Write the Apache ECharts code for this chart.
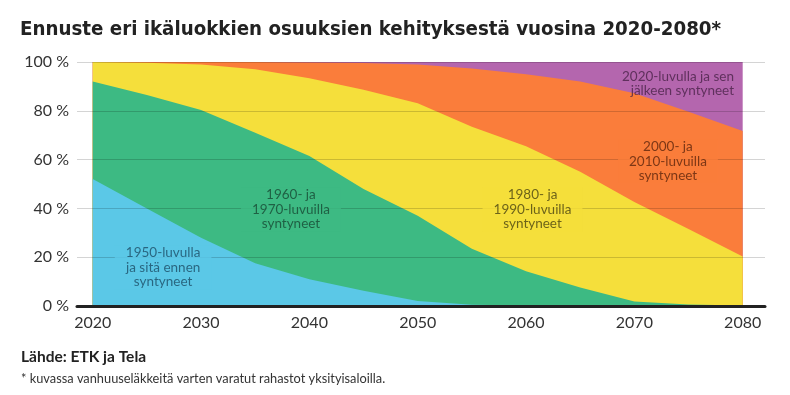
<!DOCTYPE html>
<html>
<head>
<meta charset="utf-8">
<script src="https://cdn.jsdelivr.net/npm/echarts@6/dist/echarts.min.js"></script>
<style>
html,body{margin:0;padding:0;background:#fff;}
#chart{width:790px;height:395px;}
</style>
</head>
<body>
<div id="chart"></div>
<script>
// Years (x positions)
const years = [2020, 2025, 2030, 2035, 2040, 2045, 2050, 2055, 2060, 2065, 2070, 2075, 2080];
// Shares (%) for each birth cohort
const born1950 = [52, 40, 28, 17.5, 11, 6.2, 2, 0.5, 0.2, 0.1, 0, 0, 0];
const born1960s70s = [40, 46.5, 52.3, 53.5, 50.5, 41.8, 35, 23, 14, 7.5, 1.8, 0.6, 0.2];
const born1980s90s = [8, 13.2, 18.7, 26, 31.8, 40.6, 46.1, 50, 51.3, 47.4, 40.8, 31, 20.1];
const born2000s10s = [0, 0.3, 1, 3, 6.5, 11, 15.9, 23.8, 29.5, 37, 44.6, 48, 51.4];
const born2020plus = [0, 0, 0, 0, 0.2, 0.4, 1, 2.7, 5, 8, 12.8, 20.4, 28.3];

const seriesNames = [
  '1950-luvulla ja sitä ennen syntyneet',
  '1960- ja 1970-luvuilla syntyneet',
  '1980- ja 1990-luvuilla syntyneet',
  '2000- ja 2010-luvuilla syntyneet',
  '2020-luvulla ja sen jälkeen syntyneet'
];
const seriesData = [born1950, born1960s70s, born1980s90s, born2000s10s, born2020plus];

// Tick labels
const xTicks = [2020, 2030, 2040, 2050, 2060, 2070, 2080];
const yTicks = [0, 20, 40, 60, 80, 100];

// In-chart labels: text and anchor in data coordinates [year, percent]
const labelTexts = [
  '1950-luvulla\nja sitä ennen\nsyntyneet',
  '1960- ja\n1970-luvuilla\nsyntyneet',
  '1980- ja\n1990-luvuilla\nsyntyneet',
  '2000- ja\n2010-luvuilla\nsyntyneet',
  '2020-luvulla ja sen\njälkeen syntyneet'
];
const labelYears = [2026.5, 2038.3, 2060.6, 2073.1, 2079.2];
const labelValues = [15.8, 39.5, 39.5, 59.3, 91.2];

const areaColors = ['#5bc8e7', '#3dba83', '#f5df3b', '#fa7d3b', '#b466ae'];
const textColors = ['#1d4d66', '#184a35', '#4a4312', '#5e260d', '#4a2348'];

const font = 'Lato, "Open Sans", sans-serif';

const chart = echarts.init(document.getElementById('chart'), null, {renderer: 'canvas'});

// Running totals so that each band's top edge is drawn; lower bands are painted over upper ones.
const cumulative = [];
seriesData.forEach((arr, i) => {
  cumulative.push(arr.map((v, j) => v + (i > 0 ? cumulative[i - 1][j] : 0)));
});

const areaSeries = seriesData.map((arr, i) => ({
  name: seriesNames[i],
  type: 'line',
  symbol: 'none',
  smooth: false,
  z: 2,
  lineStyle: {width: 0},
  areaStyle: {color: areaColors[i], opacity: 1, origin: 'start'},
  itemStyle: {color: areaColors[i]},
  data: cumulative[i].map((v, j) => [years[j], v])
})).reverse();

const labelSeries = labelTexts.map((t, i) => ({
  type: 'scatter',
  symbolSize: 0,
  z: 10,
  silent: true,
  data: [[labelYears[i], labelValues[i]]],
  label: {
    show: true,
    position: i === 4 ? 'left' : 'inside',
    distance: 0,
    formatter: t,
    color: textColors[i],
    fontFamily: font,
    fontSize: 13.5,
    lineHeight: 14.5,
    align: i === 4 ? 'right' : 'center',
    backgroundColor: i === 4 ? 'transparent' : areaColors[i],
    padding: i === 4 ? 0 : [0, 11]
  }
}));

chart.setOption({
  animation: false,
  backgroundColor: '#fff',
  title: [
    {
      text: 'Ennuste eri ikäluokkien osuuksien kehityksestä vuosina 2020-2080*',
      left: 20, top: 20, padding: 0,
      textStyle: {fontFamily: '"DejaVu Sans Condensed", "Liberation Sans Narrow", sans-serif', fontWeight: 'bold', fontSize: 20.3, color: '#222'}
    },
    {
      text: 'Lähde: ETK ja Tela',
      left: 21, top: 349, padding: 0,
      textStyle: {fontFamily: font, fontWeight: 'bold', fontSize: 15.5, color: '#222'}
    },
    {
      text: '* kuvassa vanhuuseläkkeitä varten varatut rahastot yksityisaloilla.',
      left: 21, top: 372, padding: 0,
      textStyle: {fontFamily: font, fontWeight: 'normal', fontSize: 12.8, color: '#333'}
    }
  ],
  grid: {left: 77, right: 25, top: 62, bottom: 89, containLabel: false},
  xAxis: {
    type: 'value',
    min: 2018.55,
    max: 2082.06,
    z: 6,
    axisLine: {show: true, onZero: true, lineStyle: {color: '#222', width: 3}},
    axisTick: {show: false},
    splitLine: {show: false},
    axisLabel: {
      customValues: xTicks,
      formatter: v => String(v),
      color: '#333',
      fontFamily: font,
      fontSize: 16,
      margin: 9
    }
  },
  yAxis: {
    type: 'value',
    min: 0,
    max: 100,
    interval: 20,
    z: 5,
    axisLine: {show: false},
    axisTick: {show: false},
    splitLine: {show: true, lineStyle: {color: 'rgba(0,0,0,0.17)', width: 1}},
    axisLabel: {
      customValues: yTicks,
      formatter: v => v + ' %',
      color: '#333',
      fontFamily: font,
      fontSize: 16,
      margin: 8
    }
  },
  series: areaSeries.concat(labelSeries)
});
</script>
</body>
</html>
